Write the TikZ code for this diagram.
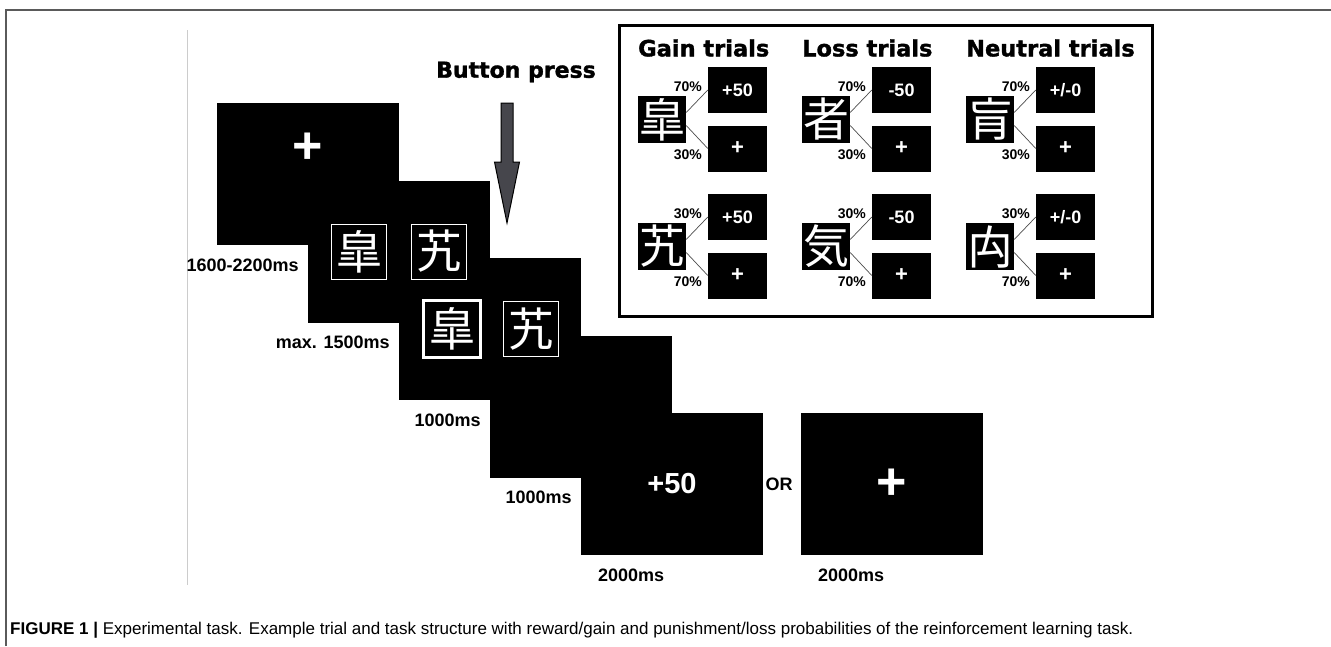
\documentclass[tikz,border=0pt]{standalone}
\usepackage{fontspec}
\setmainfont{Liberation Sans}
\newfontfamily\heavy{DejaVu Sans}[BoldFeatures={FakeBold=1.5}]
\newfontfamily\cjk{Noto Sans CJK JP}
\usetikzlibrary{arrows.meta, positioning, calc}
\definecolor{arrowgray}{HTML}{46464C}
\definecolor{framegray}{HTML}{5A5A5A}
\tikzset{
    screen/.style={fill=black, inner sep=0pt, minimum width=182pt, minimum height=142pt},
    cue/.style={draw=white, fill=black, text=white, inner sep=0pt, minimum size=55pt, font=\cjk\fontsize{46}{46}\selectfont},
    chosen/.style={cue, line width=3pt, minimum size=57pt},
    bigplus/.style={text=white, inner sep=0pt, font=\bfseries\fontsize{52}{52}\selectfont},
    dur/.style={inner sep=0pt, font=\bfseries\fontsize{18}{18}\selectfont},
    ttl/.style={anchor=west, inner sep=0pt, font=\heavy\bfseries\fontsize{22.5}{22.5}\selectfont},
    kanji/.style={fill=black, text=white, inner sep=0pt, minimum width=48pt, minimum height=47pt, font=\cjk\fontsize{46}{46}\selectfont},
    outc/.style={fill=black, text=white, inner sep=0pt, minimum width=59pt, minimum height=46pt, font=\bfseries\fontsize{18}{18}\selectfont},
    pct/.style={anchor=east, inner sep=0pt, font=\bfseries\fontsize{14}{14}\selectfont},
    link/.style={black!70, line width=0.7pt}
}

\begin{document}
\begin{tikzpicture}[x=1pt, y=-1pt]
    \useasboundingbox (0,0) rectangle (1331,646);

    % Rahmen
    \draw[framegray, line width=1.2pt] (6,646) -- (6,10) -- (1331,10);
    \draw[black!20, line width=0.8pt] (187,30) -- (187,585);

    % Bildschirme
    \foreach \n [count=\k from 0] in {fix,pair,choice,delay,fb}
        \node[screen] (\n) at (308+91*\k, 174+77.5*\k) {};
    \node[screen] (alt) at (892,484) {};

    \node[bigplus] (fixmark) at ($(fix)+(0,-26)$) {+};
    \node[cue] (pa) at ($(pair)+(-40,0)$) {皐};
    \node[cue] (pb) at ($(pair)+(40,0)$) {艽};
    \node[chosen] (ca) at ($(choice)+(-38,0)$) {皐};
    \node[cue] (cb) at ($(choice)+(41,0)$) {艽};
    \node[text=white, inner sep=0pt, font=\bfseries\fontsize{29}{29}\selectfont] (gain) at (fb) {+50};
    \node[bigplus] (altmark) at (alt) {+};
    \node[dur] (or) at (779,484) {OR};

    % Zeiten
    \node[dur, anchor=east] (d1) at ($(fix.south -| pair.west)+(-9,20)$) {1600-2200ms};
    \node[dur, anchor=east] (d2) at ($(pair.south -| choice.west)+(-9,20)$) {max. 1500ms};
    \node[dur, anchor=east] (d3) at ($(choice.south -| delay.west)+(-9,20)$) {1000ms};
    \node[dur, anchor=east] (d4) at ($(delay.south -| fb.west)+(-9,20)$) {1000ms};
    \node[dur, anchor=west] (d5) at ($(fb.south west)+(17,20)$) {2000ms};
    \node[dur, anchor=west] (d6) at ($(alt.south west)+(17,20)$) {2000ms};

    % Tastendruck
    \node[inner sep=0pt, font=\heavy\bfseries\fontsize{22}{22}\selectfont] (press) at (516,72) {Button press};
    \coordinate (tip) at (507,223);
    \draw[fill=arrowgray, line width=1pt, line join=miter]
        ($(tip)+(-6,-120)$) -- ($(tip)+(6,-120)$) -- ($(tip)+(6,-61)$) -- ($(tip)+(12.5,-61)$)
        -- (tip) -- ($(tip)+(-12.5,-61)$) -- ($(tip)+(-6,-61)$) -- cycle;

    % Aufgabenstruktur
    \draw[line width=3pt] (619,25) rectangle (1152,316);
    \foreach \ttl/\out/\ca/\cb [count=\i from 0] in {{Gain trials}/{+50}/皐/艽, {Loss trials}/{-50}/者/気, {Neutral trials}/{+/-0}/肓/禸} {
        \pgfmathsetmacro{\cx}{164*\i}
        \node[ttl] (t\i) at (638+\cx,48) {\ttl};
        % obere Reihe
        \node[kanji] (k\i a) at (662+\cx,119.5) {\ca};
        \node[outc] (o\i a) at (737.5+\cx,90) {\out};
        \node[outc, font=\bfseries\fontsize{22}{22}\selectfont] (p\i a) at (737.5+\cx,148.5) {+};
        \draw[link] ($(k\i a.east)+(0,-7)$) -- (o\i a.west);
        \draw[link] ($(k\i a.east)+(0,6)$) -- (p\i a.west);
        \node[pct] at (702+\cx,87) {70\%};
        \node[pct] at (702+\cx,155) {30\%};
        % untere Reihe
        \node[kanji] (k\i b) at (662+\cx,246.5) {\cb};
        \node[outc] (o\i b) at (737.5+\cx,217) {\out};
        \node[outc, font=\bfseries\fontsize{22}{22}\selectfont] (p\i b) at (737.5+\cx,275.5) {+};
        \draw[link] ($(k\i b.east)+(0,-7)$) -- (o\i b.west);
        \draw[link] ($(k\i b.east)+(0,6)$) -- (p\i b.west);
        \node[pct] at (702+\cx,214) {30\%};
        \node[pct] at (702+\cx,282) {70\%};
    }

    % Legende
    \node[anchor=west, inner sep=0pt, font=\fontsize{17}{17}\selectfont] (cap) at (10,630)
        {\textbf{FIGURE 1 |} Experimental task. Example trial and task structure with reward/gain and punishment/loss probabilities of the reinforcement learning task.};
\end{tikzpicture}
\end{document}
